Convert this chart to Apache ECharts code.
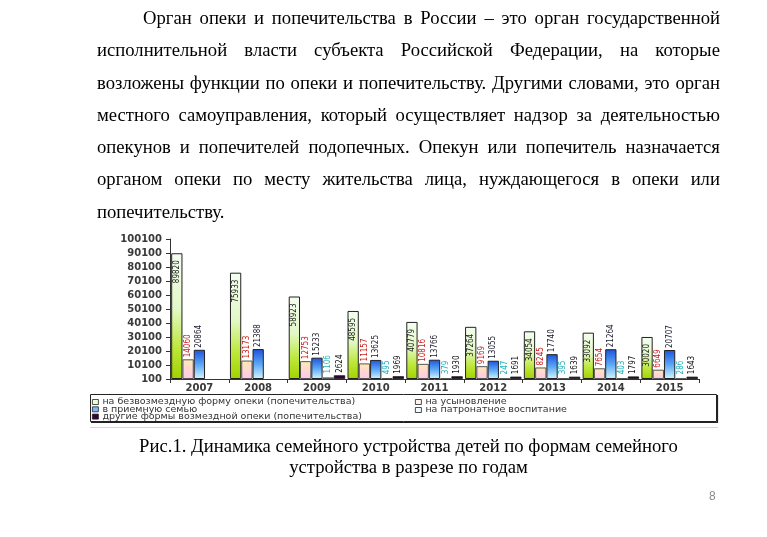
<!DOCTYPE html>
<html>
<head>
<meta charset="utf-8">
<script src="https://cdn.jsdelivr.net/npm/echarts@6/dist/echarts.min.js"></script>
<style>
  html, body { margin:0; padding:0; background:#fff; }
  #chart { position:absolute; left:0; top:0; width:767px; height:537px; }
  .para { position:absolute; left:97px; top:2px; width:623px; font-family:"Liberation Serif","Times New Roman",serif; font-size:18.67px; line-height:32.3px; color:#000; }
  .para div { white-space:nowrap; }
  .para div.first { padding-left:46px; }
  .jl { display:flex; justify-content:space-between; }
  .cap { position:absolute; left:97px; top:435px; width:623px; text-align:center; font-family:"Liberation Serif","Times New Roman",serif; font-size:18.67px; line-height:21px; color:#000; }
  .pg { position:absolute; left:709px; top:489px; font-family:"Liberation Sans",Arial,sans-serif; font-size:12px; color:#8a8a8a; }
</style>
</head>
<body>
<div id="chart"></div>
<div class="para" id="para"></div>
<div class="cap">Рис.1. Динамика семейного устройства детей по формам семейного<br>устройства в разрезе по годам</div>
<div class="pg">8</div>
<script>
// ---- text ----
const paragraphLines = [
  "Орган опеки и попечительства в России – это орган государственной",
  "исполнительной власти субъекта Российской Федерации, на которые",
  "возложены функции по опеки и попечительству. Другими словами, это орган",
  "местного самоуправления, который осуществляет надзор за деятельностью",
  "опекунов и попечителей подопечных. Опекун или попечитель назначается",
  "органом опеки по месту жительства лица, нуждающегося в опеки или",
  "попечительству."
];

// ---- data ----
const years = ['2007','2008','2009','2010','2011','2012','2013','2014','2015'];
const seriesNames = [
  'на безвозмездную форму опеки (попечительства)',
  'на усыновление',
  'в приемную семью',
  'на патронатное воспитание',
  'другие формы возмездной опеки (попечительства)'
];
const freeGuardianship = [89820, 75933, 58923, 48595, 40779, 37264, 34054, 33092, 30020];
const adoption        = [14060, 13173, 12753, 11157, 10816, 9169, 8245, 7654, 6649];
const fosterFamily    = [20864, 21388, 15233, 13625, 13766, 13055, 17740, 21264, 20707];
const patronage       = [null, null, 1106, 495, 379, 247, 395, 403, 286];
const paidOther       = [null, null, 2624, 1969, 1930, 1691, 1639, 1797, 1643];
const yTickLabels = ['100','10100','20100','30100','40100','50100','60100','70100','80100','90100','100100'];

// paragraph rendering: justified lines as in the reference
const para = document.getElementById('para');
paragraphLines.forEach((t, i) => {
  const d = document.createElement('div');
  if (i === paragraphLines.length - 1) { d.textContent = t; }
  else {
    d.className = 'jl' + (i === 0 ? ' first' : '');
    t.split(' ').forEach(w => { const s = document.createElement('span'); s.textContent = w; d.appendChild(s); });
  }
  para.appendChild(d);
});

const lab = 'Liberation Sans Narrow, DejaVu Sans Condensed, Arial Narrow, sans-serif';
function grad(stops) {
  return new echarts.graphic.LinearGradient(0, 0, 0, 1, stops.map((c) => ({offset: c[0], color: c[1]})));
}
const chart = echarts.init(document.getElementById('chart'), null, {renderer: 'canvas'});
const labelAbove = (color, dist) => ({
  show: true, position: 'top', rotate: 90, align: 'left', verticalAlign: 'middle',
  distance: dist, fontSize: 8, fontFamily: lab, color: color
});
const legendText = { fontSize: 9.5, lineHeight: 8, fontFamily: 'DejaVu Sans, sans-serif', color: '#333', padding: [0, 0, 0, -1] };
const legendIcons = ['#eaffd8', '#fff4f0', '#7fb8ff', '#f0ffff', '#3a003a'];
const legendPos = [[92, 397], [415, 397], [92, 404.3], [415, 405], [92, 411.6]];
const legends = seriesNames.map((n, i) => ({
  orient: 'vertical', left: legendPos[i][0], top: legendPos[i][1], padding: 0, itemGap: 0,
  itemWidth: 6, itemHeight: 5, icon: 'rect', textStyle: legendText, selectedMode: false,
  data: [{ name: n, itemStyle: { color: legendIcons[i], borderColor: '#222', borderWidth: 0.8 } }]
}));

chart.setOption({
  backgroundColor: '#fff',
  animation: false,
  grid: { left: 170, right: 68, top: 239, bottom: 158, containLabel: false },
  legend: legends,
  xAxis: {
    type: 'category', data: years,
    axisLine: { show: true, lineStyle: { color: '#333', width: 1 } },
    axisTick: { show: true, length: 4, lineStyle: { color: '#333' } },
    axisLabel: { fontSize: 10, fontWeight: 'bold', fontFamily: 'DejaVu Sans, sans-serif', color: '#3a3a3a', margin: 4 }
  },
  yAxis: {
    type: 'value', min: 0, max: 100000, interval: 10000,
    splitLine: { show: false },
    axisLine: { show: true, lineStyle: { color: '#333', width: 1 } },
    axisTick: { show: true, length: 4, lineStyle: { color: '#333' } },
    axisLabel: { fontSize: 10, fontWeight: 'bold', fontFamily: 'DejaVu Sans, sans-serif', color: '#3a3a3a', margin: 8,
      formatter: (v) => yTickLabels[Math.round(v / 10000)] }
  },
  graphic: [
    { type: 'rect', shape: { x: 90.5, y: 394.5, width: 626, height: 27 }, style: { fill: 'none', stroke: '#222', lineWidth: 1 }, z: 1 },
    { type: 'polyline', shape: { points: [[91, 422.5], [717.5, 422.5], [717.5, 395]] }, style: { fill: 'none', stroke: '#222', lineWidth: 1.2 }, z: 1 },
    { type: 'line', shape: { x1: 90, y1: 427.5, x2: 718, y2: 427.5 }, style: { stroke: '#d6d6d6', lineWidth: 1 }, z: 1 }
  ],
  series: [
    { name: seriesNames[0], type: 'bar', data: freeGuardianship, barGap: '0%', barCategoryGap: '4%',
      itemStyle: { color: grad([[0, '#f4fff0'], [0.45, '#e2f8c6'], [0.75, '#bde83a'], [1, '#a2d200']]), borderColor: '#222', borderWidth: 1 },
      label: { show: true, position: 'insideTop', rotate: 90, align: 'right', verticalAlign: 'middle', distance: 7,
        fontSize: 8, fontFamily: lab, color: '#222' } },
    { name: seriesNames[1], type: 'bar', data: adoption,
      itemStyle: { color: grad([[0, '#ffe9b5'], [1, '#ffc6ec']]), borderColor: '#555', borderWidth: 1 },
      label: labelAbove('#cc1a1a', 2) },
    { name: seriesNames[2], type: 'bar', data: fosterFamily,
      itemStyle: { color: grad([[0, '#1d52dc'], [0.5, '#5aa6f6'], [1, '#d4f6ff']]), borderColor: '#222', borderWidth: 1 },
      label: labelAbove('#1a1a2a', 2) },
    { name: seriesNames[3], type: 'bar', data: patronage,
      itemStyle: { color: '#aef2f2', borderColor: '#333', borderWidth: 0.8 },
      label: labelAbove('#1fb1bd', 4) },
    { name: seriesNames[4], type: 'bar', data: paidOther,
      itemStyle: { color: '#3a0038', borderColor: '#111', borderWidth: 0.8 },
      label: labelAbove('#111', 2.5) }
  ]
});
</script>
</body>
</html>
